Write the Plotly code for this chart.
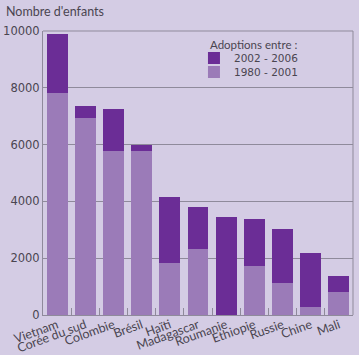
import plotly.graph_objects as go

pays = ["Vietnam", "Corée du sud", "Colombie", "Brésil", "Haïti", "Madagascar",
        "Roumanie", "Ethiopie", "Russie", "Chine", "Mali"]
periode_1980_2001 = [7830, 6930, 5770, 5770, 1820, 2340, 0, 1710, 1120, 280, 800]
total = [9900, 7350, 7240, 5980, 4160, 3810, 3460, 3390, 3040, 2170, 1360]
periode_2002_2006 = [t - a for t, a in zip(total, periode_1980_2001)]
y_ticks = [0, 2000, 4000, 6000, 8000, 10000]

bg = "#d4cce4"
dark = "#6b2d96"
light = "#9b7bb8"
grid = "#8f8a9b"
txt = "#4a4550"
f_txt = "Lato"
f_num = "DejaVu Sans"

fig = go.Figure()
fig.add_trace(go.Bar(x=pays, y=periode_1980_2001, name="1980 - 2001", legend="legend2",
                     marker=dict(color=light, line=dict(width=0))))
fig.add_trace(go.Bar(x=pays, y=periode_2002_2006, name="2002 - 2006", legend="legend",
                     marker=dict(color=dark, line=dict(width=0))))

leg_common = dict(xanchor="left", yanchor="middle", bgcolor="rgba(0,0,0,0)",
                  font=dict(family=f_num, size=10.5, color=txt), itemwidth=30)
fig.update_layout(
    width=359, height=355,
    paper_bgcolor=bg, plot_bgcolor=bg,
    barmode="stack", bargap=0.26,
    margin=dict(l=43, r=6, t=31, b=40),
    font=dict(family=f_txt, size=12, color=txt),
    showlegend=True,
    legend=dict(x=0.487, y=0.905, **leg_common),
    legend2=dict(x=0.487, y=0.856, **leg_common),
    annotations=[
        dict(text="Nombre d'enfants", xref="paper", yref="paper",
             x=-0.125, y=1.067, xanchor="left", yanchor="middle",
             showarrow=False, font=dict(family=f_txt, size=12.5, color=txt)),
        dict(text="Adoptions entre :", xref="paper", yref="paper",
             x=0.532, y=0.954, xanchor="left", yanchor="middle",
             showarrow=False, font=dict(family=f_txt, size=11.5, color=txt)),
    ],
)
fig.update_yaxes(range=[0, 10000], tickvals=y_ticks, ticktext=[str(v) for v in y_ticks],
                 showgrid=True, gridcolor=grid, gridwidth=1, automargin=False,
                 showline=True, linecolor=grid, linewidth=1, mirror=False,
                 ticks="", zeroline=False, tickfont=dict(family=f_num, size=11.5, color=txt))
fig.update_xaxes(tickangle=-20, showline=True, linecolor=grid, linewidth=1, automargin=False,
                 ticks="inside", tickson="boundaries", ticklen=7, tickcolor=grid,
                 ticklabelstandoff=-3,
                 tickfont=dict(family=f_txt, size=12.5, color=txt))
# box border top/right
fig.add_shape(type="line", xref="paper", yref="paper", x0=0, x1=1, y0=1, y1=1,
              line=dict(color=grid, width=1))
fig.add_shape(type="line", xref="paper", yref="paper", x0=1, x1=1, y0=0, y1=1,
              line=dict(color=grid, width=1))

fig.write_html("out.html", config={"displayModeBar": False},
               post_script="document.body.style.margin='0px';"
                           "document.body.style.overflow='hidden';"
                           "document.body.style.background='" + bg + "';")
